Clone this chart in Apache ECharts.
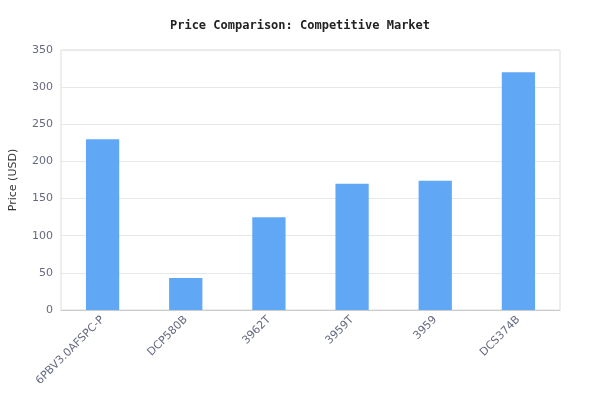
<!DOCTYPE html>
<html><head><meta charset="utf-8">
<script src="https://cdn.jsdelivr.net/npm/echarts@6/dist/echarts.min.js"></script>
<style>html,body{margin:0;padding:0;background:#fff}#c{width:600px;height:420px}</style>
</head><body><div id="c"></div>
<script>
const categories = ["6PBV3.0AFSPC-P","DCP580B","3962T","3959T","3959","DCS374B"];
const prices = [230, 43, 125, 170, 174, 320];
const chart = echarts.init(document.getElementById('c'));
chart.setOption({
  animation:false,
  title:{text:'Price Comparison: Competitive Market',left:'center',top:15,
    textStyle:{fontFamily:'DejaVu Sans Mono',fontSize:12,fontWeight:'bold',color:'#222'}},
  grid:{left:60,right:40,top:50,bottom:110,show:true,borderColor:'#ddd',borderWidth:1},
  xAxis:{type:'category',data:categories,
    axisLine:{lineStyle:{color:'#ccc'}},axisTick:{show:false},
    axisLabel:{rotate:45,color:'#666a80',fontSize:11,fontFamily:'DejaVu Sans',interval:0}},
  yAxis:{type:'value',min:0,max:350,interval:50,name:'Price (USD)',nameLocation:'middle',nameGap:42,
    nameTextStyle:{color:'#333',fontSize:11,fontFamily:'DejaVu Sans'},
    axisLabel:{color:'#666a80',fontSize:11,fontFamily:'DejaVu Sans'},
    splitLine:{lineStyle:{color:'#e8e8e8'}}},
  series:[{type:'bar',data:prices,barWidth:'40%',itemStyle:{color:'#60a8f5'}}]
});
</script></body></html>
